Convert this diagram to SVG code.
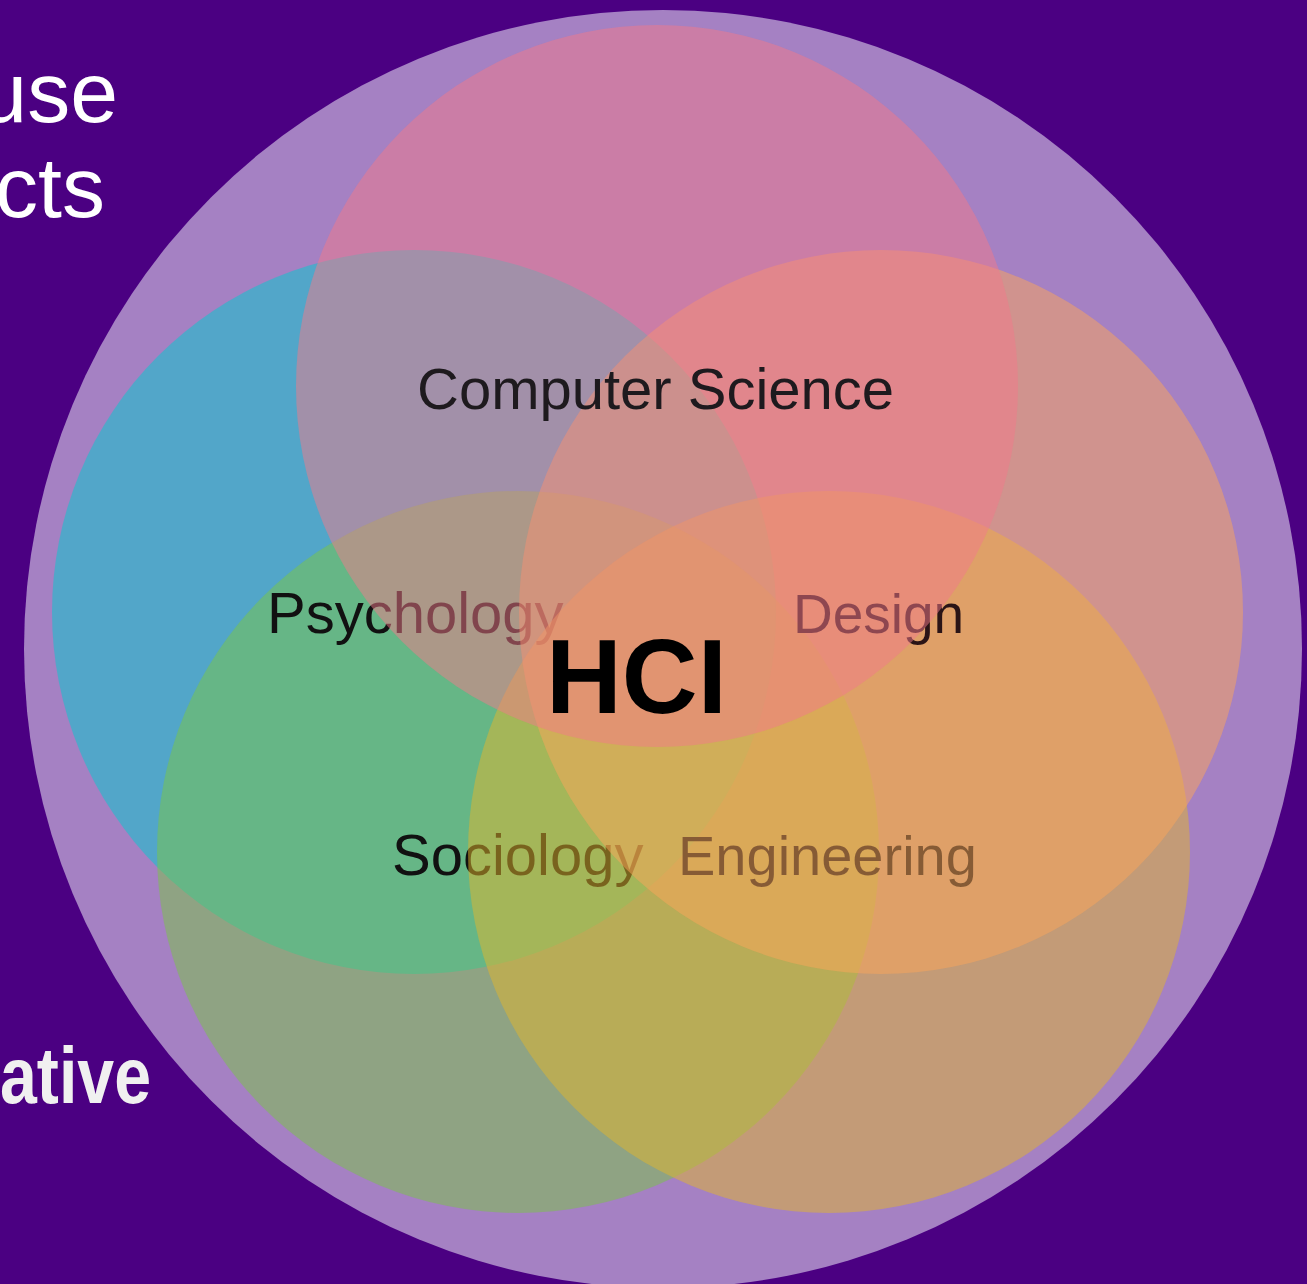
<svg xmlns="http://www.w3.org/2000/svg" width="1307" height="1284" viewBox="0 0 1307 1284">
  <style>
    .side { font-family: "Liberation Sans", Arial, sans-serif; fill: #FFFFFF; }
    .lbl { font-family: "Liberation Sans", Arial, sans-serif; font-size: 58px; fill: #111111; }
    .c { opacity: 0.5; }
  </style>
  <rect x="0" y="0" width="1307" height="1284" fill="#4B0082"/>
  <g id="side-text">
    <text class="side" x="118" y="122" font-size="86" text-anchor="end">use</text>
    <text class="side" x="105" y="217" font-size="86" text-anchor="end">cts</text>
    <text class="side" x="0" y="1103" font-size="80" font-weight="bold" style="fill:#F0F0F0" textLength="151" lengthAdjust="spacingAndGlyphs">ative</text>
  </g>
  <g id="outer-circle">
    <circle cx="663" cy="649" r="639" fill="#A581C3"/>
  </g>
  <g id="blue-circle">
    <circle class="c" cx="414" cy="612" r="362" fill="#00CCD0"/>
  </g>
  <g id="green-circle">
    <circle class="c" cx="518" cy="852" r="361" fill="#79C644"/>
  </g>
  <g id="psychology">
    <text class="lbl" x="267" y="633">Psychology</text>
  </g>
  <g id="sociology">
    <text class="lbl" x="392" y="875">Sociology</text>
  </g>
  <g id="yellow-circle">
    <circle class="c" cx="829" cy="852" r="361" fill="#E1B62C"/>
  </g>
  <g id="engineering">
    <text class="lbl" x="678" y="875" style="font-size:56px">Engineering</text>
  </g>
  <g id="orange-circle">
    <circle class="c" cx="881" cy="612" r="362" fill="#FBA65A"/>
  </g>
  <g id="design">
    <text class="lbl" x="793" y="633" style="font-size:55px;fill:#2A1416">Design</text>
  </g>
  <g id="pink-circle">
    <circle class="c" cx="657" cy="386" r="361" fill="#F17A8A"/>
  </g>
  <g id="computer-science">
    <text class="lbl" x="417" y="409" style="fill:#1E1A1E">Computer Science</text>
  </g>
  <g id="hci">
    <text x="546" y="713" font-family="Liberation Sans, Arial, sans-serif" font-size="105" font-weight="bold" fill="#000000">HCI</text>
  </g>
</svg>
